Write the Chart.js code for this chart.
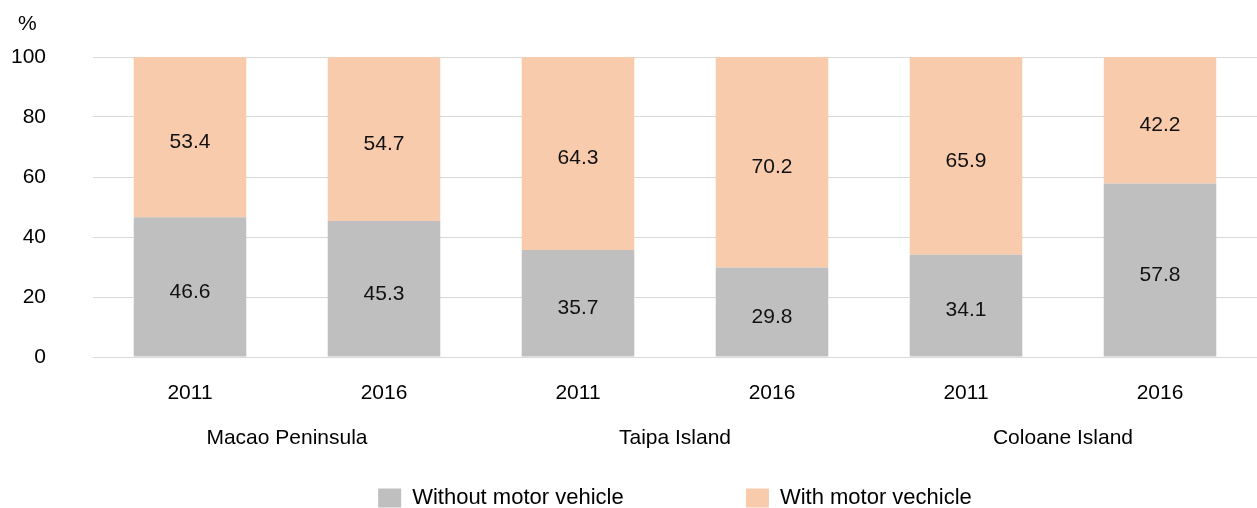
<!DOCTYPE html>
<html>
<head>
<meta charset="utf-8">
<script src="https://cdn.jsdelivr.net/npm/chart.js@4"></script>
<style>
  html, body { margin: 0; padding: 0; background: #fff; }
  #wrap { width: 1257px; height: 508px; }
</style>
</head>
<body>
<div id="wrap"><canvas id="chart"></canvas></div>
<script>
const years = ['2011', '2016', '2011', '2016', '2011', '2016'];
const areas = ['Macao Peninsula', 'Taipa Island', 'Coloane Island'];
const withoutVehicle = [46.6, 45.3, 35.7, 29.8, 34.1, 57.8];
const withVehicle = [53.4, 54.7, 64.3, 70.2, 65.9, 42.2];
const yTicks = [0, 20, 40, 60, 80, 100];

const FONT = '"Liberation Sans", Arial, sans-serif';
Chart.defaults.font.family = FONT;
Chart.defaults.font.size = 21;
Chart.defaults.color = '#000';

// draw the value in the middle of each segment
const segmentLabels = {
    id: 'segmentLabels',
    afterDatasetsDraw(chart) {
        const ctx = chart.ctx;
        ctx.save();
        ctx.font = '21px ' + FONT;
        ctx.fillStyle = '#111';
        ctx.textAlign = 'center';
        ctx.textBaseline = 'middle';
        chart.data.datasets.forEach(function(ds, i) {
            chart.getDatasetMeta(i).data.forEach(function(bar, j) {
                const mid = (bar.y + bar.base) / 2 + 5;
                ctx.fillText(ds.data[j].toFixed(1), bar.x, mid);
            });
        });
        ctx.restore();
    }
};

// the "%" unit above the y axis
const unitLabel = {
    id: 'unitLabel',
    afterDraw(chart) {
        const ctx = chart.ctx;
        ctx.save();
        ctx.font = '21px ' + FONT;
        ctx.fillStyle = '#000';
        ctx.textAlign = 'left';
        ctx.textBaseline = 'middle';
        ctx.fillText('%', 18, 24);
        ctx.restore();
    }
};

// centre the legend under the plot area and drop it to the bottom edge
const legendShift = {
    id: 'legendShift',
    afterLayout(chart) {
        const lg = chart.legend;
        if (!lg) return;
        lg.left = chart.chartArea.left;
        lg.top += 11;
        lg.bottom += 11;
    }
};

new Chart(document.getElementById('chart'), {
    type: 'bar',
    data: {
        labels: years,
        datasets: [
            {
                label: 'Without motor vehicle',
                data: withoutVehicle,
                backgroundColor: '#bfbfbf'
            },
            {
                label: 'With motor vechicle',
                data: withVehicle,
                backgroundColor: '#f8cbad'
            }
        ]
    },
    options: {
        responsive: true,
        maintainAspectRatio: false,
        animation: false,
        datasets: {
            bar: { categoryPercentage: 1, barPercentage: 0.58 }
        },
        layout: { padding: { top: 57, right: 0, left: 0, bottom: 0 } },
        scales: {
            x: {
                stacked: true,
                grid: { display: false },
                border: { display: false },
                ticks: { padding: 16, maxRotation: 0 },
                afterFit: function(axis) { axis.height = 61; }
            },
            area: {
                type: 'category',
                labels: areas,
                position: 'bottom',
                offset: true,
                grid: { display: false },
                border: { display: false },
                ticks: { padding: 0 },
                afterFit: function(axis) { axis.height = 58; }
            },
            y: {
                stacked: true,
                min: 0,
                max: 100,
                afterBuildTicks: function(axis) {
                    axis.ticks = yTicks.map(v => ({ value: v }));
                },
                afterFit: function(axis) {
                    axis.width = 93;
                    axis.paddingTop = 0;
                    axis.paddingBottom = 0;
                },
                grid: { color: '#d9d9d9', lineWidth: 1, drawTicks: false },
                border: { display: false },
                ticks: { padding: 47 }
            }
        },
        plugins: {
            legend: {
                position: 'bottom',
                labels: {
                    boxWidth: 23,
                    boxHeight: 19,
                    padding: 0,
                    font: { size: 22 },
                    generateLabels: function(chart) {
                        const items = Chart.defaults.plugins.legend.labels.generateLabels(chart);
                        // widen the gap between the two legend entries
                        items[0].text = items[0].text + '\u00a0'.repeat(20);
                        return items;
                    }
                }
            },
            tooltip: { enabled: false }
        }
    },
    plugins: [segmentLabels, unitLabel, legendShift]
});
</script>
</body>
</html>
